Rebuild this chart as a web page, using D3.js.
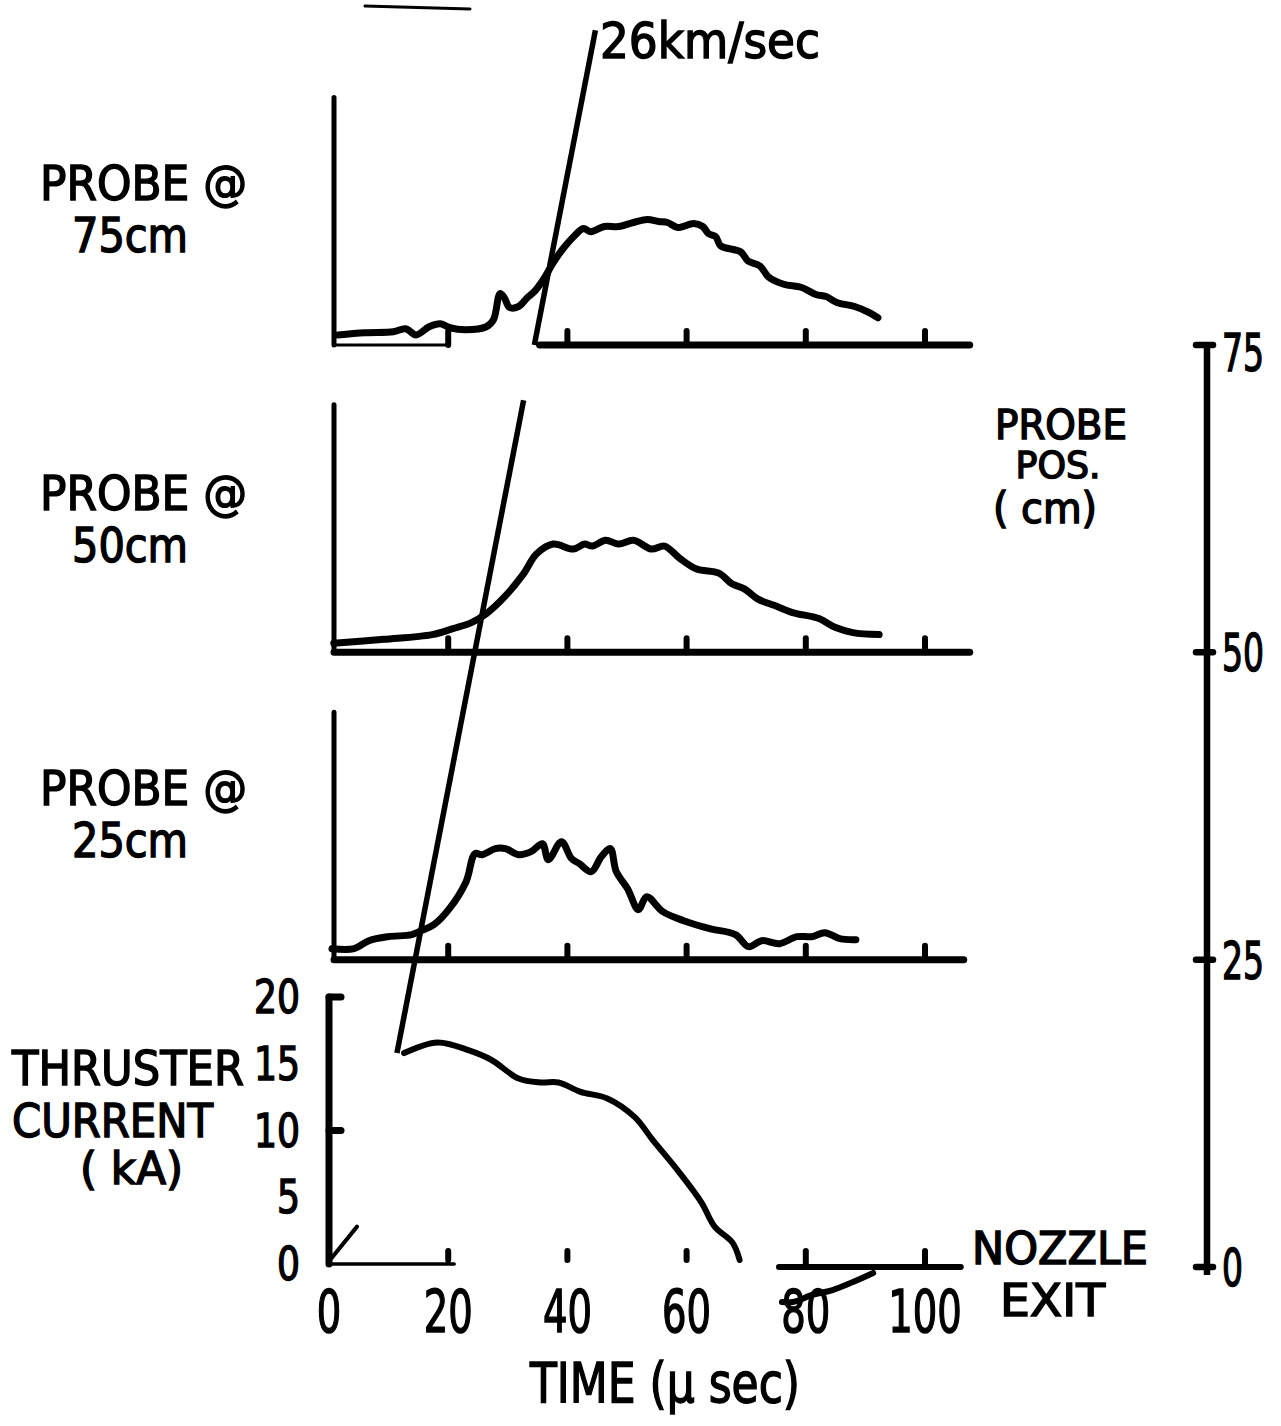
<!DOCTYPE html>
<html>
<head>
<meta charset="utf-8">
<script src="https://cdn.jsdelivr.net/npm/d3@7"></script>
<style>
  body { margin: 0; background: #fff; }
  svg { display: block; }
  text {
    font-family: 'DejaVu Sans Condensed', 'DejaVu Sans', sans-serif;
    font-stretch: condensed;
    fill: #000;
    stroke: #000;
    stroke-width: 1.4;
  }
</style>
</head>
<body>
<div id="chart"></div>
<script>
// tick labels
const timeTicks = [0, 20, 40, 60, 80, 100];
const currentTicks = [0, 5, 10, 15, 20];
const posTicks = [0, 25, 50, 75];

// probe stations (cm from thruster)
const probePositions = [75, 50, 25];
const probeNames = ['75cm', '50cm', '25cm'];

// probe signals, [time µs, signal (arb. units, axis height = 10)]
const probe75 = [
  [1.5, 0.40], [6.0, 0.49], [10.8, 0.53], [12.9, 0.65], [14.6, 0.40], [16.8, 0.73],
  [18.7, 0.85], [20.3, 0.69], [22.9, 0.61], [26.4, 0.73], [27.6, 1.01], [28.7, 2.06],
  [29.4, 1.90], [30.3, 1.50], [31.8, 1.54], [33.3, 1.90], [34.5, 2.15], [36.0, 2.63],
  [37.5, 3.24], [39.0, 3.77], [41.2, 4.37], [42.7, 4.66], [43.9, 4.53], [46.2, 4.74],
  [48.6, 4.74], [51.1, 4.90], [53.4, 5.02], [55.3, 4.94], [56.8, 4.90], [58.5, 4.70],
  [61.2, 4.86], [62.7, 4.74], [63.7, 4.45], [64.9, 4.33], [65.7, 3.97], [69.1, 3.72],
  [70.3, 3.36], [72.3, 3.16], [73.8, 2.71], [76.3, 2.43], [79.2, 2.31], [81.7, 2.02],
  [83.4, 1.94], [85.2, 1.70], [88.2, 1.54], [90.6, 1.30], [92.1, 1.09]
];
const probe50 = [
  [0.8, 0.36], [9.2, 0.52], [17.3, 0.71], [20.8, 0.95], [23.9, 1.19], [26.4, 1.55],
  [29.6, 2.26], [32.6, 3.13], [34.8, 3.93], [37.6, 4.33], [41.0, 4.13], [42.9, 4.33],
  [44.2, 4.25], [46.4, 4.48], [48.6, 4.33], [51.1, 4.48], [54.1, 4.13], [56.3, 4.25],
  [58.8, 3.77], [61.7, 3.33], [65.4, 3.17], [67.6, 2.74], [69.7, 2.54], [71.9, 2.14],
  [74.8, 1.87], [77.8, 1.59], [82.2, 1.35], [85.0, 0.99], [87.9, 0.79], [92.3, 0.71]
];
const probe25 = [
  [0.5, 0.44], [4.2, 0.44], [6.7, 0.76], [9.9, 0.92], [13.9, 1.00], [15.5, 1.16],
  [17.6, 1.40], [20.2, 2.04], [23.0, 3.12], [24.5, 4.24], [25.7, 4.20], [27.9, 4.44],
  [29.6, 4.44], [31.8, 4.20], [33.9, 4.32], [35.8, 4.64], [36.8, 4.00], [39.0, 4.72],
  [40.7, 4.04], [42.0, 3.84], [44.0, 3.52], [45.7, 4.12], [47.2, 4.44], [48.2, 3.52],
  [50.1, 2.84], [51.9, 2.00], [53.3, 2.52], [56.0, 1.92], [59.5, 1.56], [63.9, 1.24],
  [68.2, 1.00], [70.4, 0.52], [72.6, 0.76], [75.6, 0.64], [78.5, 0.92], [81.0, 0.92],
  [83.2, 1.08], [85.7, 0.84], [88.4, 0.80]
];
const probeSignals = [probe75, probe50, probe25];

// thruster current, [time µs, kA]
const current = [
  [12.6, 15.8], [18.2, 16.6], [23.5, 16.0], [27.2, 15.3], [31.8, 13.9], [35.5, 13.6],
  [38.5, 13.6], [42.2, 12.9], [46.7, 12.4], [51.3, 11.0], [54.3, 9.3], [58.7, 6.9],
  [62.5, 4.6], [64.7, 2.8], [67.7, 1.6], [68.9, 0.3]
];
const currentStart = [[0, 0.2], [4.7, 2.8]];
const currentTail = [[76.0, -2.85], [77.8, -2.85], [81.2, -2.3], [84.5, -1.95], [87.9, -1.35], [91.3, -0.67]];

// 26 km/sec front, [time µs, position cm]
const front = [[11.4, 17.4], [44.7, 100.6]];
const frontGap = [70.5, 75];

const width = 1281;
const height = 1426;

const svg = d3.select('#chart').append('svg')
  .attr('width', width)
  .attr('height', height);

svg.append('rect').attr('width', width).attr('height', height).attr('fill', '#fff');

const x = d3.scaleLinear().domain([0, 100]).range([329, 925]);
const pos = d3.scaleLinear().domain([0, 75]).range([1267, 345]);
const yCur = d3.scaleLinear().domain([0, 20]).range([1264, 997]);

function stroke(sel, w) {
  return sel.attr('fill', 'none').attr('stroke', '#000').attr('stroke-width', w)
    .attr('stroke-linecap', 'round').attr('stroke-linejoin', 'round');
}

function label(str, px, py, size, len, anchor) {
  const t = svg.append('text')
    .attr('x', px).attr('y', py)
    .attr('font-size', size)
    .attr('text-anchor', anchor || 'start')
    .text(str);
  if (len) t.attr('textLength', len).attr('lengthAdjust', 'spacingAndGlyphs');
  return t;
}

// stray scan mark at the top
stroke(svg.append('line').attr('x1', 365).attr('y1', 6).attr('x2', 470).attr('y2', 9), 3);

// probe panels
const baselineSpans = [[[0, 19.5], [34.5, 107.5]], [[0, 107.5]], [[0, 106.5]]];
const labelBase = [200, 510, 805];

probePositions.forEach((cm, i) => {
  const base = pos(cm);
  const y = d3.scaleLinear().domain([0, 10]).range([base, base - 250]);
  const g = svg.append('g');

  stroke(g.append('line')
    .attr('x1', x(0) + 5).attr('x2', x(0) + 5)
    .attr('y1', base).attr('y2', y(9.9)), 5);

  baselineSpans[i].forEach(s => {
    stroke(g.append('line')
      .attr('x1', x(s[0]) + 5).attr('x2', x(s[1]))
      .attr('y1', base).attr('y2', base), i === 0 && s[0] === 0 ? 3 : 7);
  });

  timeTicks.filter(t => t > 0).forEach(t => {
    stroke(g.append('line')
      .attr('x1', x(t)).attr('x2', x(t))
      .attr('y1', base).attr('y2', base - 14), 6);
  });

  stroke(g.append('path')
    .datum(probeSignals[i])
    .attr('d', d3.line().x(d => x(d[0])).y(d => y(d[1])).curve(d3.curveCatmullRom.alpha(0.5))), 7);

  label('PROBE @', 40, labelBase[i], 48, 207);
  label(probeNames[i], 72, labelBase[i] + 52, 48, 116);
});

// 26 km/sec line
const frontAt = p => front[0][0] + (p - front[0][1]) * (front[1][0] - front[0][0]) / (front[1][1] - front[0][1]);
[[front[0][1], frontGap[0]], [frontGap[1], front[1][1]]].forEach(s => {
  stroke(svg.append('line')
    .attr('x1', x(frontAt(s[0]))).attr('y1', pos(s[0]))
    .attr('x2', x(frontAt(s[1]))).attr('y2', pos(s[1])), 5.5)
    .attr('stroke-linecap', 'butt');
});
label('26km/sec', 600, 58, 50, 220);

// thruster current panel
const cg = svg.append('g');
stroke(cg.append('line')
  .attr('x1', x(0)).attr('x2', x(0))
  .attr('y1', yCur(0)).attr('y2', yCur(20)), 7);
[20, 10].forEach(v => {
  stroke(cg.append('line')
    .attr('x1', x(0)).attr('x2', x(0) + 12)
    .attr('y1', yCur(v)).attr('y2', yCur(v)), 7);
});
stroke(cg.append('line').attr('x1', x(0)).attr('x2', x(21))
  .attr('y1', yCur(0)).attr('y2', yCur(0)), 3.5);
stroke(cg.append('line').attr('x1', x(75.5)).attr('x2', x(106))
  .attr('y1', yCur(0) + 3).attr('y2', yCur(0) + 3), 6);
timeTicks.filter(t => t > 0).forEach(t => {
  const y0 = t >= 80 ? yCur(0) + 3 : yCur(0) - 4;
  stroke(cg.append('line')
    .attr('x1', x(t)).attr('x2', x(t))
    .attr('y1', y0).attr('y2', yCur(0) - 13), 6);
});

const curLine = d3.line().x(d => x(d[0])).y(d => yCur(d[1])).curve(d3.curveCatmullRom.alpha(0.5));
stroke(cg.append('path').datum(current).attr('d', curLine), 6);
stroke(cg.append('path').datum(currentStart).attr('d', curLine), 4);
stroke(cg.append('path').datum(currentTail).attr('d', curLine), 6);

currentTicks.forEach(v => {
  label(String(v), 300, yCur(v) + 16, 46, String(v).length * 23, 'end');
});

label('THRUSTER', 12, 1085, 48, 232);
label('CURRENT', 12, 1137, 46, 201);
label('( kA)', 80, 1184, 44, 103);

// time axis labels
timeTicks.forEach(t => {
  label(String(t), x(t), 1332, 58, String(t).length * 24.5, 'middle');
});
label('TIME (µ sec)', 665, 1402, 56, 270, 'middle');
label('NOZZLE', 972, 1264, 44, 176);
label('EXIT', 1000, 1316, 44, 105);

// probe position axis
const rx = 1207;
stroke(svg.append('line')
  .attr('x1', rx).attr('x2', rx)
  .attr('y1', pos(75) - 2).attr('y2', pos(0) + 8), 6.5)
  .attr('stroke-linecap', 'butt');
posTicks.forEach(p => {
  stroke(svg.append('line')
    .attr('x1', rx - 11).attr('x2', rx + 6)
    .attr('y1', pos(p)).attr('y2', pos(p)), 6.5);
  label(String(p), 1222, pos(p) + (p === 75 ? 26 : 19), 52, String(p).length * 21);
});
label('PROBE', 1061, 439, 40, 132, 'middle');
label('POS.', 1058, 478, 37, 85, 'middle');
label('( cm)', 1045, 523, 42, 104, 'middle');
</script>
</body>
</html>
